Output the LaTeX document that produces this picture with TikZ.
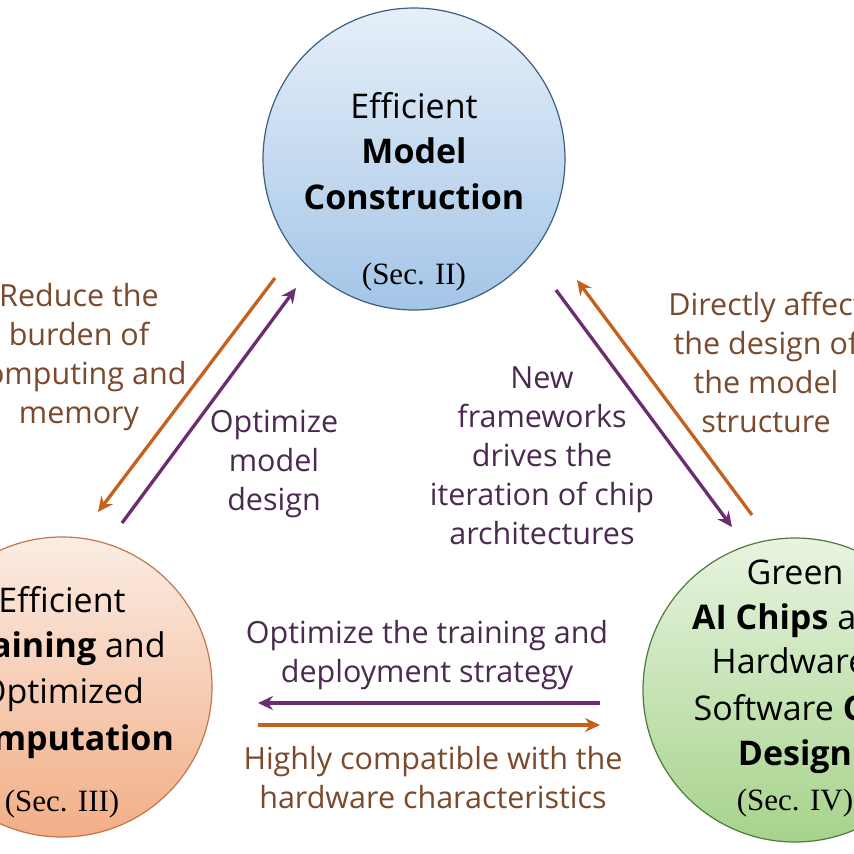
\documentclass[tikz,border=0pt]{standalone}
\usepackage{fontspec}
\setmainfont{Open Sans}
\newfontfamily\secfont{Liberation Serif}
\usetikzlibrary{arrows.meta}
\definecolor{arrbrown}{HTML}{C5611C}
\definecolor{arrpurple}{HTML}{6B2C72}
\definecolor{txtbrown}{HTML}{7A4A2C}
\definecolor{txtpurple}{HTML}{4B2A50}
\definecolor{blueedge}{HTML}{3E5F80}
\definecolor{bluetop}{HTML}{E6EFF9}
\definecolor{bluebot}{HTML}{A3C5E7}
\definecolor{orangeedge}{HTML}{C4764A}
\definecolor{orangetop}{HTML}{FBEDE4}
\definecolor{orangebot}{HTML}{F2AE86}
\definecolor{greenedge}{HTML}{4E7A3A}
\definecolor{greentop}{HTML}{E8F4E0}
\definecolor{greenbot}{HTML}{A6D38C}
\tikzset{
  hub/.style={circle, inner sep=0pt, line width=1.2pt},
  ctext/.style={anchor=base, font=\fontsize{34}{46}\selectfont, text=black, inner sep=0pt},
  sectext/.style={anchor=base, font=\fontsize{31}{36}\secfont, text=black, inner sep=0pt},
  lbl/.style={align=center, inner sep=0pt, font=\fontsize{30.5}{39}\selectfont},
  brownlbl/.style={lbl, text=txtbrown},
  purplelbl/.style={lbl, text=txtpurple},
  arr/.style={line width=3.3pt, -{Stealth[length=15pt,width=14pt,inset=5pt]}},
  brownarr/.style={arr, draw=arrbrown},
  purplearr/.style={arr, draw=arrpurple},
}
\begin{document}
\begin{tikzpicture}[x=1pt,y=-1pt]
\useasboundingbox (0,0) rectangle (854,854);
\clip (0,0) rectangle (854,854);
\fill[white] (0,0) rectangle (854,854);

% circles
\node[hub, minimum size=302pt, draw=blueedge, top color=bluetop, bottom color=bluebot] (model) at (414,159) {};
\node[hub, minimum size=300pt, draw=orangeedge, top color=orangetop, bottom color=orangebot] (train) at (62,687) {};
\node[hub, minimum size=304pt, draw=greenedge, top color=greentop, bottom color=greenbot] (chip) at (795,690) {};

% circle texts
\node[ctext] (m1) at (414,118) {Efficient};
\node[ctext] (m2) at (414,163) {\bfseries Model};
\node[ctext] (m3) at (414,209) {\bfseries Construction};
\node[sectext] (m4) at (414,284) {(Sec. II)};

\node[ctext] (t1) at (62,612) {Efficient};
\node[ctext] (t2) at (62,657) {\textbf{Training} and};
\node[ctext] (t3) at (62,703) {Optimized};
\node[ctext] (t4) at (62,750) {\bfseries Computation};
\node[sectext] (t5) at (62,811) {(Sec. III)};

\node[ctext] (c1) at (795,584) {Green};
\node[ctext] (c2) at (795,629) {\textbf{AI Chips} and};
\node[ctext] (c3) at (795,673) {Hardware-};
\node[ctext] (c4) at (795,720) {Software \textbf{Co-}};
\node[ctext] (c5) at (795,765) {\bfseries Design};
\node[sectext] (c6) at (795,810) {(Sec. IV)};

% labels
\node[brownlbl] (l1) at (79,357) {Reduce the\\burden of\\computing and\\memory};
\node[purplelbl] (l2) at (274,464) {Optimize\\model\\design};
\node[purplelbl] (l3) at (542,456) {New\\frameworks\\drives the\\iteration of chip\\architectures};
\node[brownlbl] (l4) at (766,362) {Directly affect\\the design of\\the model\\structure};
\node[purplelbl] (l5) at (427,655) {Optimize the training and\\deployment strategy};
\node[brownlbl] (l6) at (433,778) {Highly compatible with the\\hardware characteristics};

% arrow end points
\coordinate (a1s) at (275,278);
\coordinate (a1e) at (98,512);
\coordinate (a2s) at (122,523);
\coordinate (a2e) at (296,288);
\coordinate (a3s) at (556,290);
\coordinate (a3e) at (732,527);
\coordinate (a4s) at (752,515);
\coordinate (a4e) at (577,280);
\coordinate (a5s) at (600,703);
\coordinate (a5e) at (258,703);
\coordinate (a6s) at (258,725);
\coordinate (a6e) at (600,725);

\draw[brownarr] (a1s) -- (a1e);
\draw[purplearr] (a2s) -- (a2e);
\draw[purplearr] (a3s) -- (a3e);
\draw[brownarr] (a4s) -- (a4e);
\draw[purplearr] (a5s) -- (a5e);
\draw[brownarr] (a6s) -- (a6e);
\end{tikzpicture}
\end{document}
